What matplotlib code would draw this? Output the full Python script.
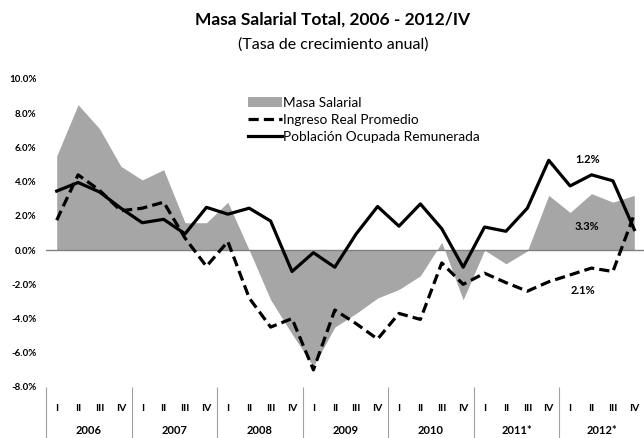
import numpy as np
import matplotlib
matplotlib.use("Agg")
from matplotlib import pyplot as plt
from matplotlib.patches import Patch
from matplotlib.lines import Line2D
import matplotlib.transforms as mtransforms

plt.rcParams['font.family'] = ['Lato', 'DejaVu Sans']

years = ['2006', '2007', '2008', '2009', '2010', '2011*', '2012*']
quarters = ['I', 'II', 'III', 'IV']

# tasas de crecimiento anual (%)
masa_salarial = [5.5, 8.5, 7.1, 4.9, 4.1, 4.7, 1.6, 1.6, 2.8, 0.0, -2.9, -4.9, -6.8, -4.5,
                 -3.7, -2.8, -2.3, -1.5, 0.45, -2.9, 0.0, -0.8, -0.05, 3.2, 2.2, 3.3, 2.8, 3.2]
ingreso_real = [1.75, 4.4, 3.5, 2.3, 2.45, 2.8, 0.7, -0.95, 0.5, -2.8, -4.5, -4.0, -7.0, -3.5,
                -4.3, -5.2, -3.7, -4.05, -0.75, -2.0, -1.35, -1.9, -2.4, -1.85, -1.45, -1.05, -1.25, 2.1]
poblacion_ocupada = [3.45, 3.95, 3.4, 2.45, 1.6, 1.8, 0.95, 2.5, 2.1, 2.45, 1.7, -1.25, -0.15, -1.0,
                     0.95, 2.55, 1.4, 2.7, 1.25, -1.0, 1.35, 1.1, 2.45, 5.25, 3.75, 4.4, 4.05, 1.2]

x = np.arange(len(masa_salarial))

fig = plt.figure(figsize=(6.44, 4.38), dpi=100)
ax = fig.add_axes([46 / 644, 1 - 387 / 438, 599 / 644, 308 / 438])

ax.fill_between(x, 0, masa_salarial, color='#a6a6a6', linewidth=0, zorder=1)
ax.axhline(0, color='#808080', linewidth=1, zorder=2)
ax.plot(x, ingreso_real, color='black', linewidth=2.3, linestyle=(0, (3.2, 1.6)), zorder=3)
ax.plot(x, poblacion_ocupada, color='black', linewidth=2.3, zorder=4)

ax.set_xlim(-0.5, len(x) - 0.5)
ax.set_ylim(-8, 10)
ax.set_yticks(np.arange(-8, 10.1, 2))
ax.set_yticklabels([f"{v:.1f}%" for v in np.arange(-8, 10.1, 2)], fontsize=7, fontweight='bold')
ax.tick_params(axis='y', length=0, pad=7)

for s in ax.spines.values():
    s.set_visible(False)

# eje de categorias: trimestres y años
ax.set_xticks(x)
ax.set_xticklabels(quarters * len(years), fontsize=7.5, fontweight='bold')
ax.tick_params(axis='x', which='major', length=0, pad=12)
ax.set_xticks(np.arange(-0.5, len(x), 4), minor=True)
ax.tick_params(axis='x', which='minor', length=37, width=0.8, color='#a0a0a0', direction='out')

trans = mtransforms.blended_transform_factory(ax.transData, ax.transAxes)
for i, yr in enumerate(years):
    ax.text(i * 4 + 1.5, -0.14, yr, transform=trans, ha='center', va='center',
            fontsize=8, fontweight='bold')

# etiquetas de datos
ax.text(24.8, 5.3, "1.2%", fontsize=8, fontweight='bold', ha='center', va='center')
ax.text(24.8, 1.4, "3.3%", fontsize=8, fontweight='bold', ha='center', va='center')
ax.text(24.6, -2.35, "2.1%", fontsize=8, fontweight='bold', ha='center', va='center')

handles = [Patch(facecolor='#a6a6a6', edgecolor='none'),
           Line2D([], [], color='black', linewidth=2.3, linestyle=(0, (3.2, 1.6))),
           Line2D([], [], color='black', linewidth=2.3)]
ax.legend(handles, ['Masa Salarial', 'Ingreso Real Promedio', 'Población Ocupada Remunerada'],
          loc='upper left', bbox_to_anchor=(0.337, 0.943), frameon=False, fontsize=9.8,
          handlelength=2.5, handletextpad=0.05, labelspacing=0.37, borderpad=0, borderaxespad=0)

fig.text(333 / 644, 1 - 20 / 438, "Masa Salarial Total, 2006 - 2012/IV", ha='center', va='center',
         fontsize=12.5, fontweight='bold')
fig.text(333 / 644, 1 - 45 / 438, "(Tasa de crecimiento anual)", ha='center', va='center', fontsize=11.5)

fig.savefig('out.png', dpi=100)
